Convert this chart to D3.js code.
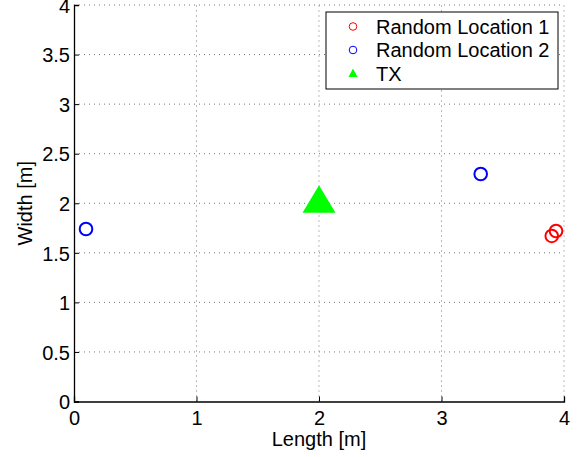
<!DOCTYPE html>
<html>
<head>
<meta charset="utf-8">
<script src="https://cdn.jsdelivr.net/npm/d3@7"></script>
<style>
  body { margin: 0; background: #fff; }
  text { font-family: "Liberation Sans", Arial, sans-serif; fill: #000; }
</style>
</head>
<body>
<div id="chart"></div>
<script>
// datos
const loc1 = [[3.90, 1.67], [3.935, 1.72]]
const loc2 = [[3.32, 2.295], [0.098, 1.74]]
const tx = [[2.0, 2.0]]
const xTicks = [0, 1, 2, 3, 4]
const yTicks = [0, 0.5, 1, 1.5, 2, 2.5, 3, 3.5, 4]
const legendItems = [
  { name: "Random Location 1", kind: "circle", color: "#ff0000" },
  { name: "Random Location 2", kind: "circle", color: "#0000ff" },
  { name: "TX", kind: "triangle", color: "#00ff00" }
]

const width = 581, height = 457
const margin = { left: 74, right: 17, top: 5, bottom: 55.5 }

const svg = d3.select("#chart")
  .append("svg")
  .attr("width", width)
  .attr("height", height)
  .attr("viewBox", [0, 0, width, height])
  .style("display", "block")

const x = d3.scaleLinear().domain([0, 4]).range([margin.left, width - margin.right])
const y = d3.scaleLinear().domain([0, 4]).range([height - margin.bottom, margin.top])

// rejilla punteada
const grid = svg.append("g")
  .attr("stroke", "#777")
  .attr("stroke-width", 1)
  .attr("stroke-dasharray", "1,4")
grid.selectAll("line.gx")
  .data(xTicks.slice(1))
  .join("line")
  .attr("x1", d => x(d)).attr("x2", d => x(d))
  .attr("y1", y(0)).attr("y2", y(4))
grid.selectAll("line.gy")
  .data(yTicks.slice(1))
  .join("line")
  .attr("y1", d => y(d)).attr("y2", d => y(d))
  .attr("x1", x(0)).attr("x2", x(4))

// ejes
const fontSize = 20
const xAxis = svg.append("g")
  .attr("transform", `translate(0,${y(0)})`)
  .call(d3.axisBottom(x).tickValues(xTicks).tickSize(-5).tickPadding(9).tickFormat(d3.format("")))
const yAxis = svg.append("g")
  .attr("transform", `translate(${x(0)},0)`)
  .call(d3.axisLeft(y).tickValues(yTicks).tickSize(-5).tickPadding(4).tickFormat(d3.format("")))

;[xAxis, yAxis].forEach(a => {
  a.select(".domain").attr("stroke", "#000").attr("stroke-width", 1.3)
  a.selectAll(".tick line").attr("stroke", "#000")
  a.selectAll(".tick text")
    .style("font-family", '"Liberation Sans", Arial, sans-serif')
    .style("font-size", fontSize + "px")
    .attr("fill", "#000")
})
yAxis.selectAll(".tick text").attr("dy", "0.36em")

svg.append("text")
  .attr("x", (x(0) + x(4)) / 2)
  .attr("y", 446)
  .attr("text-anchor", "middle")
  .style("font-size", fontSize + "px")
  .text("Length [m]")

svg.append("text")
  .attr("transform", `translate(32,${(y(0) + y(4)) / 2}) rotate(-90)`)
  .attr("text-anchor", "middle")
  .style("font-size", fontSize + "px")
  .text("Width [m]")

// marcadores
const triPath = (w, up, down) => `M0,${-up}L${w},${down}L${-w},${down}Z`

svg.append("g").selectAll("circle")
  .data(loc1)
  .join("circle")
  .attr("cx", d => x(d[0])).attr("cy", d => y(d[1]))
  .attr("r", 6.3)
  .attr("fill", "none")
  .attr("stroke", "#ff0000")
  .attr("stroke-width", 2)

svg.append("g").selectAll("circle")
  .data(loc2)
  .join("circle")
  .attr("cx", d => x(d[0])).attr("cy", d => y(d[1]))
  .attr("r", 6.3)
  .attr("fill", "none")
  .attr("stroke", "#0000ff")
  .attr("stroke-width", 2)

svg.append("g").selectAll("path")
  .data(tx)
  .join("path")
  .attr("transform", d => `translate(${x(d[0])},${y(d[1])})`)
  .attr("d", triPath(16.5, 18, 9.5))
  .attr("fill", "#00ff00")

// leyenda
const lg = svg.append("g").attr("transform", "translate(326,12)")
lg.append("rect")
  .attr("width", 232).attr("height", 77)
  .attr("fill", "#fff")
  .attr("stroke", "#000")
  .attr("stroke-width", 1)

const items = lg.selectAll("g.item")
  .data(legendItems)
  .join("g")
  .attr("class", "item")
  .attr("transform", (d, i) => `translate(0,${14.5 + i * 23.5})`)

items.filter(d => d.kind === "circle")
  .append("circle")
  .attr("cx", 27).attr("r", 3.8)
  .attr("fill", "none")
  .attr("stroke", d => d.color)
  .attr("stroke-width", 1)
items.filter(d => d.kind === "triangle")
  .append("path")
  .attr("transform", "translate(27,0)")
  .attr("d", triPath(4.5, 5, 3.5))
  .attr("fill", d => d.color)
items.append("text")
  .attr("x", 50)
  .attr("dy", "0.36em")
  .style("font-size", fontSize + "px")
  .text(d => d.name)
</script>
</body>
</html>
